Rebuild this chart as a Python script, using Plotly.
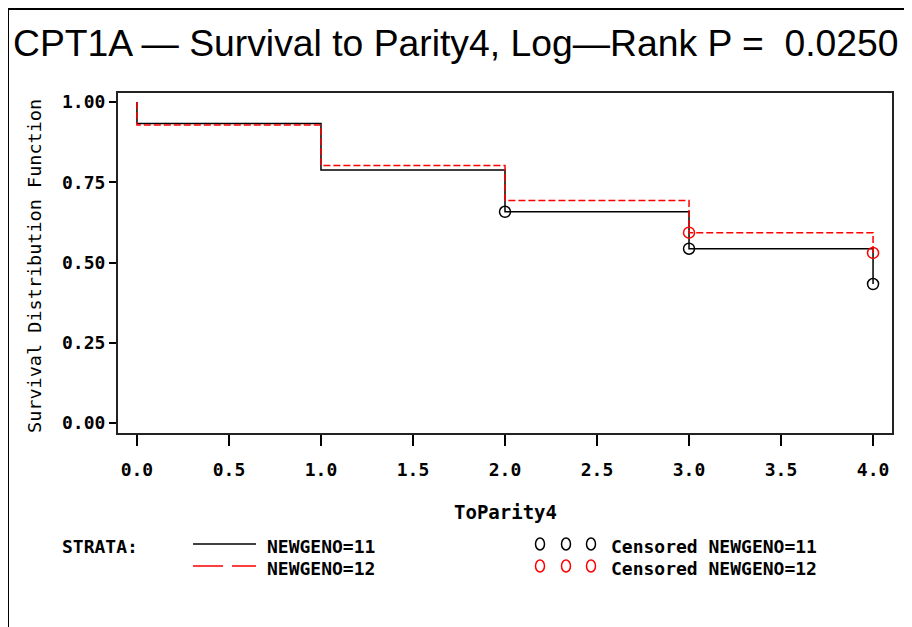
import plotly.graph_objects as go

# ---- data ----
times_11 = [0, 0, 1, 2, 3, 4]
surv_11 = [1.0, 0.933, 0.788, 0.658, 0.543, 0.433]
times_12 = [0, 0, 1, 2, 3, 4]
surv_12 = [1.0, 0.928, 0.802, 0.693, 0.593, 0.530]
cens_t_11 = [2, 3, 4]
cens_s_11 = [0.658, 0.543, 0.433]
cens_t_12 = [3, 4]
cens_s_12 = [0.593, 0.530]

x_ticks = [0, 0.5, 1, 1.5, 2, 2.5, 3, 3.5, 4]
x_ticktext = ["0.0", "0.5", "1.0", "1.5", "2.0", "2.5", "3.0", "3.5", "4.0"]
y_ticks = [0, 0.25, 0.5, 0.75, 1.0]
y_ticktext = ["0.00", "0.25", "0.50", "0.75", "1.00"]

title_text = "CPT1A \u2014 Survival to Parity4, Log\u2014Rank P =  0.0250"

# page body has an 8px margin; work in screen pixels and convert
OFF = 8
W, H = 904, 619
L, R, T, B = 110, 20, 85, 194
PW, PH = W - L - R, H - T - B


def px(p):
    return (p - OFF - L) / PW


def py(p):
    return (H - B - (p - OFF)) / PH


MONO = "DejaVu Sans Mono"
fig = go.Figure()

fig.add_trace(go.Scatter(x=times_11, y=surv_11, mode="lines", line_shape="hv",
                         line=dict(color="black", width=1.5), showlegend=False))
fig.add_trace(go.Scatter(x=times_12, y=surv_12, mode="lines", line_shape="hv",
                         line=dict(color="#ff0000", width=1.5, dash="7px,3px"), showlegend=False))
fig.add_trace(go.Scatter(x=cens_t_11, y=cens_s_11, mode="markers",
                         marker=dict(symbol="circle-open", size=11, color="black",
                                     line=dict(width=1.5, color="black")),
                         showlegend=False, cliponaxis=False))
fig.add_trace(go.Scatter(x=cens_t_12, y=cens_s_12, mode="markers",
                         marker=dict(symbol="circle-open", size=11, color="#ff0000",
                                     line=dict(width=1.5, color="#ff0000")),
                         showlegend=False, cliponaxis=False))

tickfont = dict(family=MONO, size=18, color="black", weight="bold")
fig.update_xaxes(range=[-0.103, 4.103], tickvals=x_ticks, ticktext=x_ticktext,
                 ticks="outside", ticklen=11, tickwidth=1.5, tickcolor="black",
                 ticklabelstandoff=8,
                 showline=True, mirror=True, linewidth=2, linecolor="#222",
                 showgrid=False, zeroline=False, tickfont=tickfont)
fig.update_yaxes(range=[-0.031, 1.028], tickvals=y_ticks, ticktext=y_ticktext,
                 ticks="outside", ticklen=7, tickwidth=1.5, tickcolor="black",
                 showline=True, mirror=True, linewidth=2, linecolor="#222",
                 showgrid=False, zeroline=False, tickfont=tickfont)

ann = []
ann.append(dict(text=title_text, x=px(456), y=py(43), xref="paper", yref="paper",
                xanchor="center", yanchor="middle", showarrow=False,
                font=dict(family="Liberation Sans", size=37.3, color="black")))
ann.append(dict(text="Survival Distribution Function", x=px(34), y=py(266), xref="paper",
                yref="paper", xanchor="center", yanchor="middle", textangle=-90,
                showarrow=False, font=dict(family=MONO, size=18.5, color="black")))
ann.append(dict(text="ToParity4", x=px(505), y=py(512), xref="paper", yref="paper",
                xanchor="center", yanchor="middle", showarrow=False,
                font=dict(family=MONO, size=19, color="black", weight="bold")))
leg_font = dict(family=MONO, size=18, color="black", weight="bold")
ROW1, ROW2 = 546, 568
for txt, xx, yy in [("STRATA:", 60, ROW1), ("NEWGENO=11", 265, ROW1), ("NEWGENO=12", 265, ROW2),
                    ("Censored NEWGENO=11", 609, ROW1), ("Censored NEWGENO=12", 609, ROW2)]:
    ann.append(dict(text=txt, x=px(xx), y=py(yy), xref="paper", yref="paper",
                    xanchor="left", yanchor="middle", showarrow=False, font=leg_font))

shapes = []
# outer border (top and left)
shapes.append(dict(type="line", xref="paper", yref="paper", x0=px(8), x1=px(920),
                   y0=py(9), y1=py(9), line=dict(color="black", width=2)))
shapes.append(dict(type="line", xref="paper", yref="paper", x0=px(8), x1=px(8),
                   y0=py(9), y1=py(640), line=dict(color="black", width=2)))
# legend line samples
shapes.append(dict(type="line", xref="paper", yref="paper", x0=px(193), x1=px(256),
                   y0=py(ROW1 - 2), y1=py(ROW1 - 2), line=dict(color="black", width=1.5)))
shapes.append(dict(type="line", xref="paper", yref="paper", x0=px(193), x1=px(256),
                   y0=py(ROW2 - 2), y1=py(ROW2 - 2),
                   line=dict(color="#ff0000", width=1.5, dash="30px,9px")))
for cx in [540, 566, 591]:
    for cy, col in [(ROW1 - 2, "black"), (ROW2 - 2, "#ff0000")]:
        shapes.append(dict(type="circle", xref="paper", yref="paper",
                           xsizemode="pixel", ysizemode="pixel",
                           xanchor=px(cx), yanchor=py(cy), x0=-4.5, x1=4.5, y0=-6, y1=6,
                           line=dict(color=col, width=1.5)))

fig.update_layout(width=W, height=H, margin=dict(l=L, r=R, t=T, b=B, autoexpand=False),
                  plot_bgcolor="white", paper_bgcolor="white", showlegend=False,
                  annotations=ann, shapes=shapes)

fig.write_html("out.html")
